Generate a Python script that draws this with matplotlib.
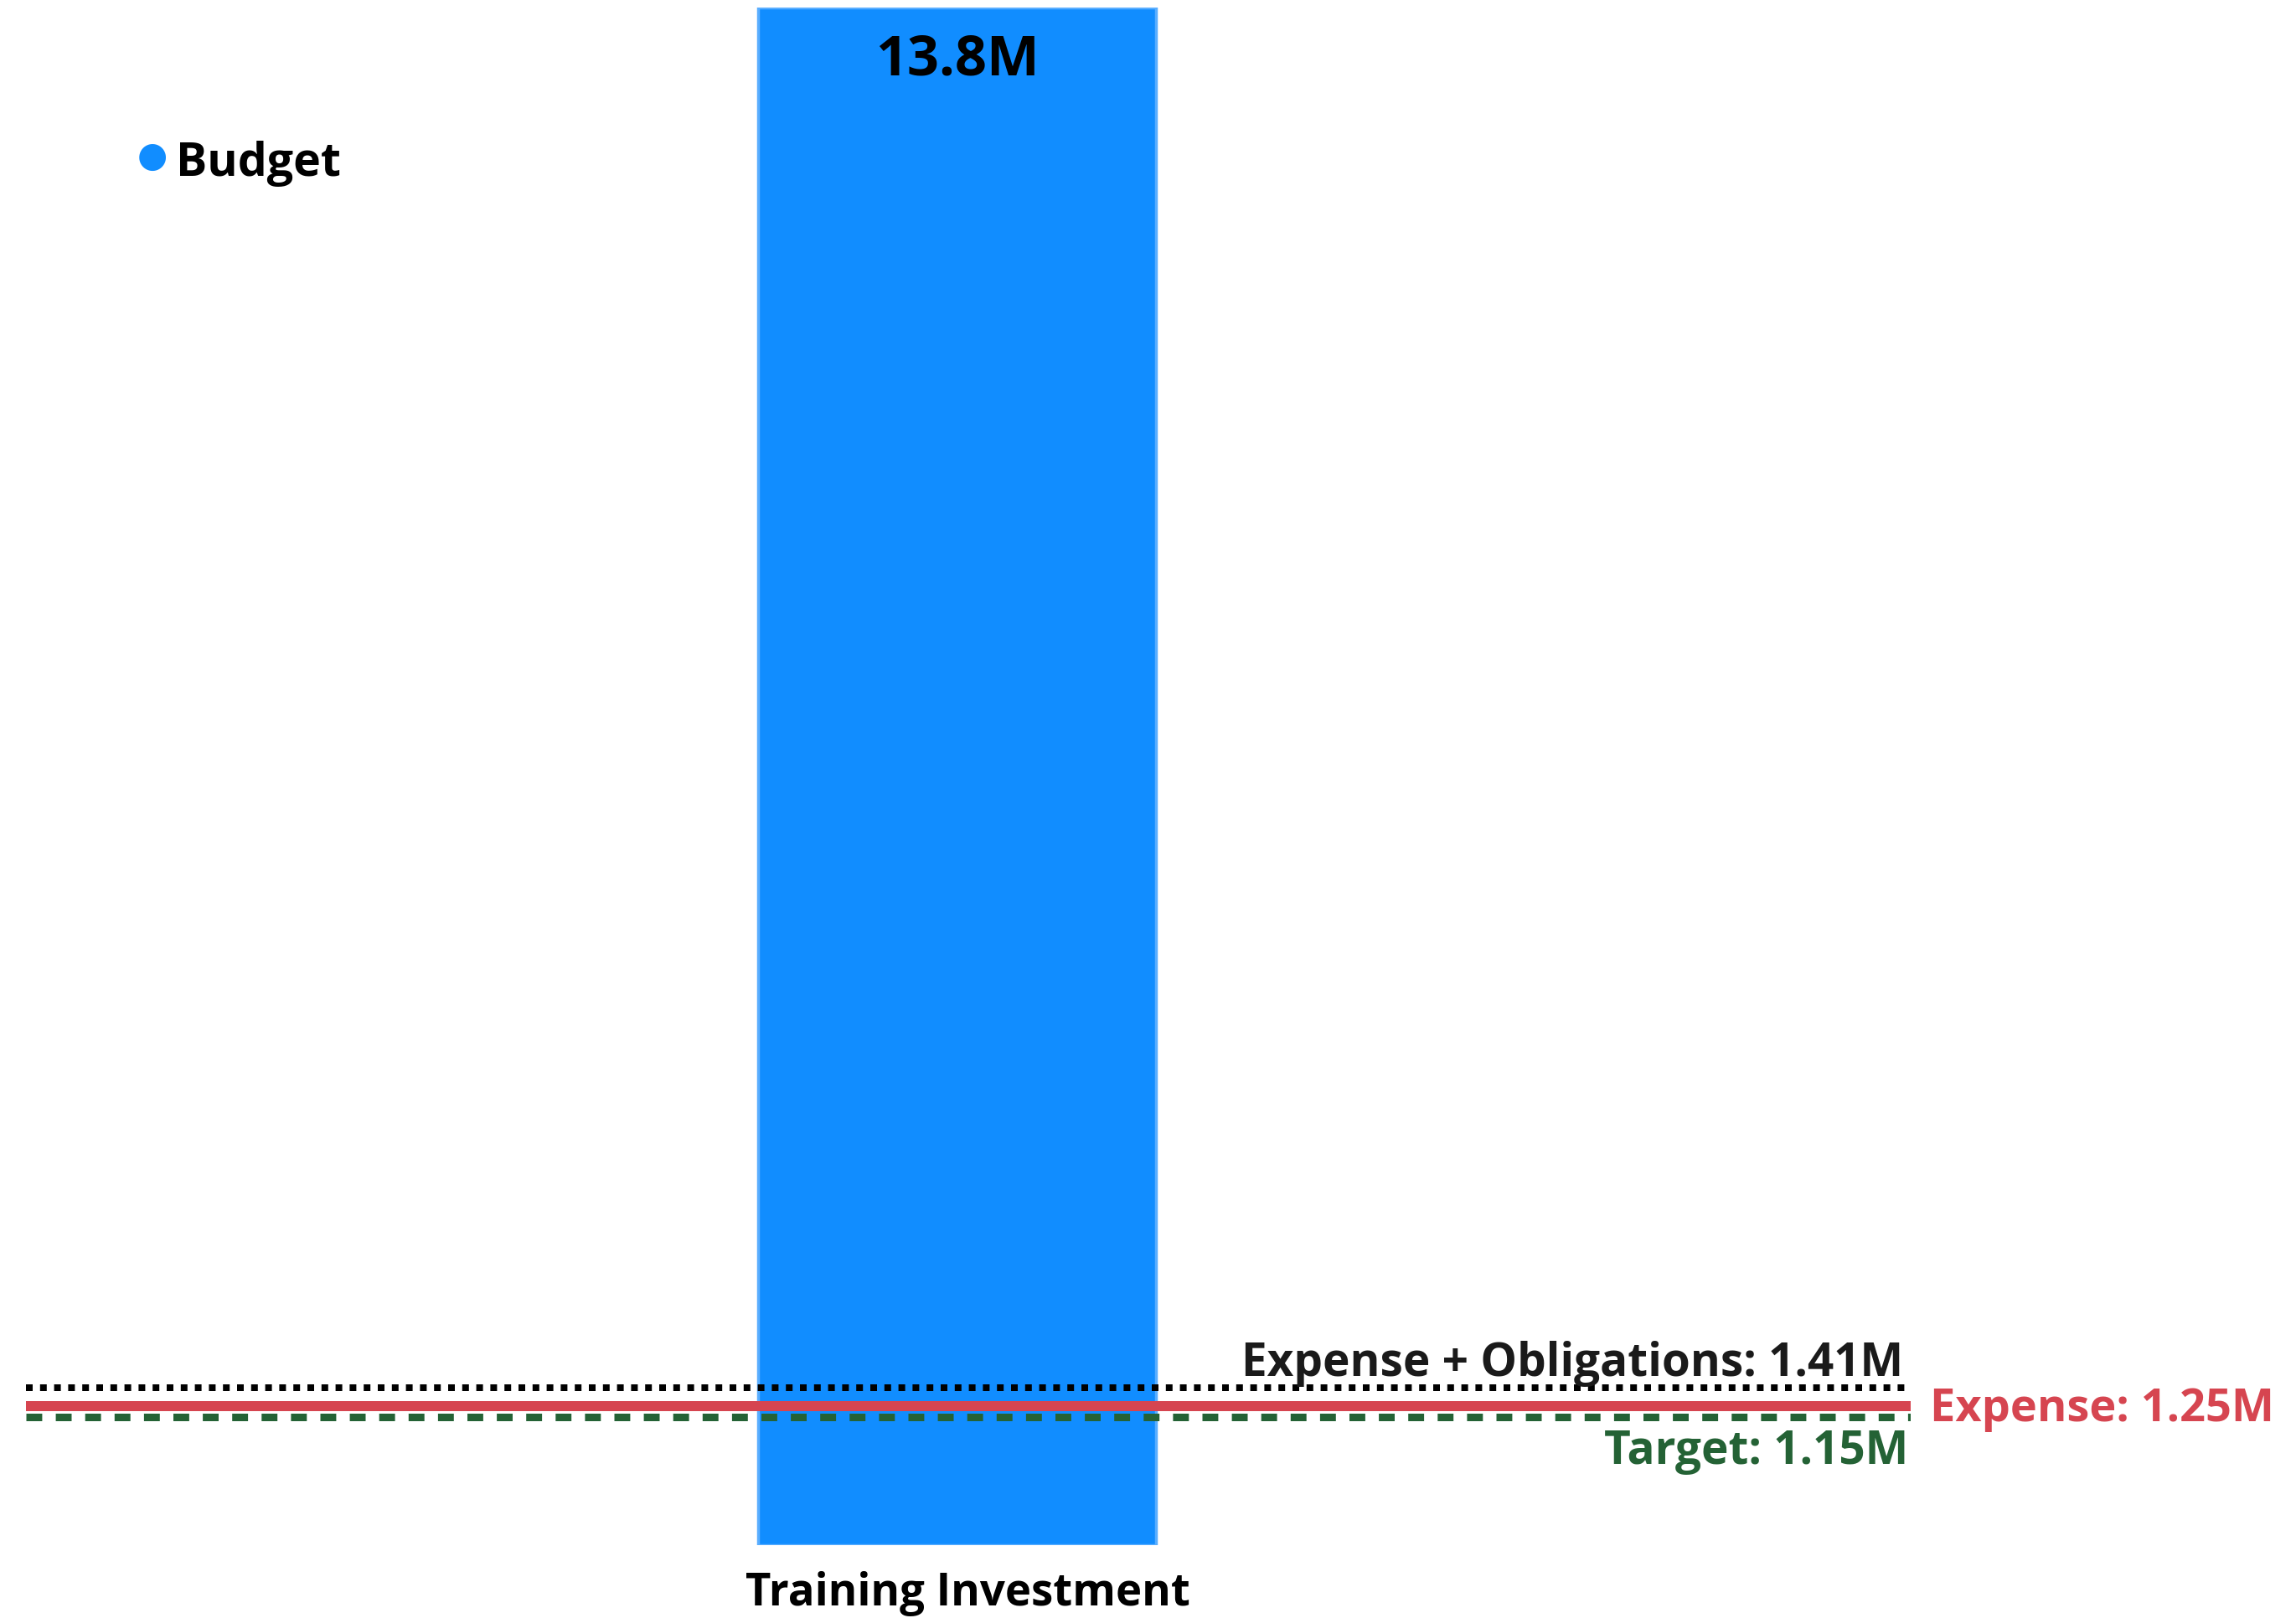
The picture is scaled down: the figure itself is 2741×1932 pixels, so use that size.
import numpy as np
import matplotlib.pyplot as plt
import matplotlib.transforms as mtransforms

# data
categories = ['Training Investment']
budget = [13.8]
budget_labels = ['13.8M']
ref_names = ['Expense + Obligations', 'Expense', 'Target']
ref_values = [1.41, 1.25, 1.15]
ref_labels = ['1.41M', '1.25M', '1.15M']

plt.rcParams['font.family'] = ['Open Sans', 'DejaVu Sans']
plt.rcParams['font.weight'] = 'bold'

DPI = 100
W, H = 2741, 1932
px = 72.0 / DPI  # pixels -> points

fig = plt.figure(figsize=(W / DPI, H / DPI), dpi=DPI)
ax = fig.add_axes([31 / W, 87 / H, 2250 / W, 1836 / H])

x = np.arange(len(categories))
bars = ax.bar(x, budget, width=0.422, color='#118DFF', edgecolor='#5AAEFF', linewidth=2.5)
ax.set_xlim(-0.988, 1.012)
ax.set_ylim(0, max(budget))

for b, lab in zip(bars, budget_labels):
    ax.annotate(lab, xy=(b.get_x() + b.get_width() / 2, b.get_height()),
                xytext=(0, -81 * px), textcoords='offset points',
                ha='center', va='baseline', fontsize=48, fontweight='bold', color='black')

# reference lines
ax.axhline(ref_values[0], color='black', lw=8 * px, linestyle=(0, (1, 1.1)),
           dash_capstyle='butt', zorder=3)
ax.axhline(ref_values[1], color='#D64550', lw=12 * px, solid_capstyle='butt', zorder=3)
ax.axhline(ref_values[2], color='#246235', lw=9 * px, linestyle=(0, (2.1, 1.8)),
           dash_capstyle='butt', zorder=3)

ax.annotate(f'{ref_names[0]}: {ref_labels[0]}', xy=(1, ref_values[0]),
            xycoords=('axes fraction', 'data'), xytext=(-9 * px, 14 * px),
            textcoords='offset points', ha='right', va='baseline',
            fontsize=39.5, fontweight='bold', color='#1a1a1a')
ax.annotate(f'{ref_names[1]}: {ref_labels[1]}', xy=(1, ref_values[1]),
            xycoords=('axes fraction', 'data'), xytext=(23 * px, -18 * px),
            textcoords='offset points', ha='left', va='baseline',
            fontsize=39, fontweight='bold', color='#D64550', annotation_clip=False)
ax.annotate(f'{ref_names[2]}: {ref_labels[2]}', xy=(1, ref_values[2]),
            xycoords=('axes fraction', 'data'), xytext=(-3 * px, -56 * px),
            textcoords='offset points', ha='right', va='baseline',
            fontsize=39.5, fontweight='bold', color='#246235')

# axes
ax.set_xticks(x)
ax.set_xticklabels(categories, fontsize=38, fontweight='bold')
ax.tick_params(axis='x', length=0, pad=22)
shift = mtransforms.ScaledTranslation(13 / DPI, 0, fig.dpi_scale_trans)
for t in ax.get_xticklabels():
    t.set_transform(t.get_transform() + shift)
ax.set_yticks([])
for s in ax.spines.values():
    s.set_visible(False)

# legend
fig.text(182 / W, 1 - 187 / H, '\u25CF', fontsize=30, color='#118DFF',
         ha='center', va='center', family='DejaVu Sans')
fig.text(210 / W, 1 - 210 / H, 'Budget', fontsize=40, fontweight='bold',
         ha='left', va='baseline')

fig.savefig('out.png', dpi=DPI)
